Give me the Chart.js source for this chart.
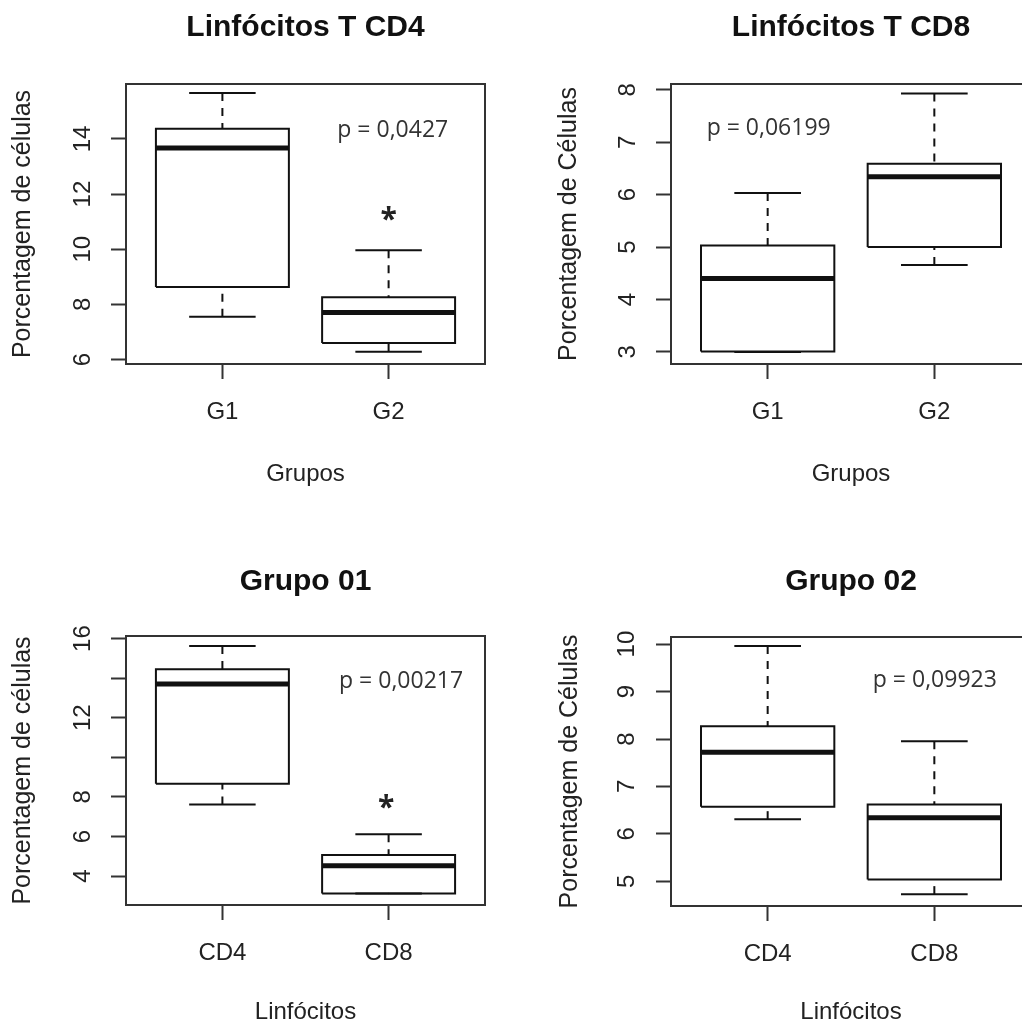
<!DOCTYPE html>
<html><head><meta charset="utf-8">
<script src="https://cdn.jsdelivr.net/npm/chart.js@4.4.1/dist/chart.umd.min.js"></script>
<style>
html,body{margin:0;padding:0;background:#fff;overflow:hidden;width:1022px;height:1023px;}
canvas{position:absolute;}
</style></head><body>
<canvas id="c1" width="511" height="511" style="left:0px;top:0px;width:511px;height:511px"></canvas>
<canvas id="c2" width="540" height="511" style="left:511px;top:0px;width:540px;height:511px"></canvas>
<canvas id="c3" width="511" height="520" style="left:0px;top:511px;width:511px;height:520px"></canvas>
<canvas id="c4" width="540" height="520" style="left:511px;top:511px;width:540px;height:520px"></canvas>
<script>
// ---- data ----
const groupLabels = ['G1', 'G2'];
const lymphLabels = ['CD4', 'CD8'];

// Linfócitos T CD4 (G1, G2)
const cd4Min = [7.55, 6.28];
const cd4Q1  = [8.63, 6.60];
const cd4Med = [13.67, 7.71];
const cd4Q3  = [14.37, 8.26];
const cd4Max = [15.66, 9.96];

// Linfócitos T CD8 (G1, G2)
const cd8Min = [3.00, 4.66];
const cd8Q1  = [3.01, 5.00];
const cd8Med = [4.40, 6.34];
const cd8Q3  = [5.03, 6.59];
const cd8Max = [6.03, 7.93];

// Grupo 01 (CD4, CD8)
const g1Min = [7.62, 3.12];
const g1Q1  = [8.67, 3.12];
const g1Med = [13.70, 4.52];
const g1Q3  = [14.45, 5.06];
const g1Max = [15.62, 6.12];

// Grupo 02 (CD4, CD8)
const g2Min = [6.31, 4.73];
const g2Q1  = [6.57, 5.04];
const g2Med = [7.72, 6.34];
const g2Q3  = [8.27, 6.62];
const g2Max = [9.96, 7.95];

// tick values / labels
const yTicksP1 = [6, 8, 10, 12, 14];
const yTickLabelsP1 = ['6', '8', '10', '12', '14'];
const yTicksP2 = [3, 4, 5, 6, 7, 8];
const yTickLabelsP2 = ['3', '4', '5', '6', '7', '8'];
const yTicksP3 = [4, 6, 8, 10, 12, 14, 16];
const yTickLabelsP3 = ['4', '6', '8', '', '12', '', '16'];
const yTicksP4 = [5, 6, 7, 8, 9, 10];
const yTickLabelsP4 = ['5', '6', '7', '8', '9', '10'];
const xTickValues = [1, 2];

// ---- drawing ----
Chart.defaults.font.family = '"Liberation Sans", Arial, sans-serif';
const INK = '#111';
const FRAME = '#333';
const HALF_BOX = 0.4, HALF_CAP = 0.2;

function seg(points, width, dash) {
  return {
    data: points, showLine: true, borderColor: INK, borderWidth: width,
    borderDash: dash || [], pointRadius: 0, pointHoverRadius: 0, fill: false,
    tension: 0, borderJoinStyle: 'miter', borderCapStyle: 'butt'
  };
}

function boxDatasets(mn, q1, md, q3, mx) {
  const ds = [];
  md.forEach((_, i) => {
    const x = xTickValues[i];
    ds.push(seg([{x: x, y: mx[i]}, {x: x, y: q3[i]}], 2, [8, 7]));
    ds.push(seg([{x: x, y: mn[i]}, {x: x, y: q1[i]}], 2, [8, 7]));
    ds.push(seg([{x: x - HALF_CAP, y: mx[i]}, {x: x + HALF_CAP, y: mx[i]}], 2));
    ds.push(seg([{x: x - HALF_CAP, y: mn[i]}, {x: x + HALF_CAP, y: mn[i]}], 2));
    ds.push(seg([{x: x - HALF_BOX, y: q1[i]}, {x: x + HALF_BOX, y: q1[i]}, {x: x + HALF_BOX, y: q3[i]},
                 {x: x - HALF_BOX, y: q3[i]}, {x: x - HALF_BOX, y: q1[i]}], 2));
    ds.push(seg([{x: x - HALF_BOX, y: md[i]}, {x: x + HALF_BOX, y: md[i]}], 5));
  });
  return ds;
}

const framePlugin = {
  id: 'frame',
  afterDatasetsDraw(chart) {
    const a = chart.chartArea, ctx = chart.ctx;
    ctx.save();
    ctx.strokeStyle = FRAME; ctx.lineWidth = 2;
    ctx.strokeRect(a.left, a.top, a.right - a.left, a.bottom - a.top);
    ctx.restore();
  }
};

const notesPlugin = {
  id: 'notes',
  afterDraw(chart, args, opts) {
    const ctx = chart.ctx, xs = chart.scales.x, ys = chart.scales.y;
    (opts.items || []).forEach(n => {
      ctx.save();
      ctx.font = n.font;
      ctx.fillStyle = n.color;
      ctx.textAlign = 'center';
      ctx.textBaseline = 'alphabetic';
      const px = xs.getPixelForValue(n.x), py = ys.getPixelForValue(n.y);
      const m = ctx.measureText(n.ref || n.text);
      const off = (m.actualBoundingBoxAscent - m.actualBoundingBoxDescent) / 2;
      ctx.fillText(n.text, px, py + off);
      ctx.restore();
    });
  }
};

function makePanel(p) {
  const titleSize = 30, titleLH = titleSize * 1.2;
  const tp = p.titleCY - titleLH / 2;
  new Chart(document.getElementById(p.id), {
    type: 'scatter',
    data: { datasets: boxDatasets(p.mn, p.q1, p.md, p.q3, p.mx) },
    options: {
      responsive: false, animation: false, events: [],
      layout: { padding: { left: 0, top: 0, bottom: 0, right: p.W - p.R } },
      plugins: {
        legend: { display: false }, tooltip: { enabled: false },
        title: {
          display: true, text: p.title, fullSize: false, color: INK,
          font: { size: titleSize, weight: 'bold' },
          padding: { top: tp, bottom: p.T - tp - titleLH }
        },
        notes: { items: p.notes }
      },
      scales: {
        x: {
          type: 'linear', min: 0.42, max: 2.58, bounds: 'data',
          afterBuildTicks: s => { s.ticks = xTickValues.map(v => ({value: v})); },
          afterFit: s => { s.height = p.H - p.B; },
          ticks: { callback: (v, i) => p.cats[i], color: '#222', font: { size: 24 },
                   padding: p.xTickPad, maxRotation: 0, minRotation: 0, autoSkip: false },
          grid: { display: true, drawOnChartArea: false, drawTicks: true, tickLength: 15,
                  tickWidth: 2, tickColor: FRAME },
          border: { display: false },
          title: { display: true, text: p.xTitle, color: '#222', font: { size: 24 },
                   padding: { top: 0, bottom: p.xTitlePad } }
        },
        y: {
          type: 'linear', min: p.yMin, max: p.yMax, bounds: 'data',
          afterBuildTicks: s => { s.ticks = p.yTicks.map(v => ({value: v})); },
          afterFit: s => { s.width = p.L; },
          ticks: { callback: (v, i) => p.yLabels[i], color: '#222', font: { size: 24 },
                   padding: p.yTickPad, minRotation: 90, maxRotation: 90, autoSkip: false,
                   crossAlign: 'center' },
          grid: { display: true, drawOnChartArea: false, drawTicks: true, tickLength: 15,
                  tickWidth: 2, tickColor: FRAME },
          border: { display: false },
          title: { display: true, text: p.yTitle, color: '#222', font: { size: 25 },
                   padding: { top: p.yTitlePad, bottom: 0 } }
        }
      }
    },
    plugins: [framePlugin, notesPlugin]
  });
}

const pFont = '23px "Open Sans"';
const starFont = 'bold 30px "Open Sans"';

makePanel({
  id: 'c1', title: 'Linfócitos T CD4', cats: groupLabels,
  mn: cd4Min, q1: cd4Q1, md: cd4Med, q3: cd4Q3, mx: cd4Max,
  yMin: 5.84, yMax: 15.99, yTicks: yTicksP1, yLabels: yTickLabelsP1,
  yTitle: 'Porcentagem de células', xTitle: 'Grupos',
  W: 511, H: 511, L: 126, R: 485, T: 84, B: 364, titleCY: 28,
  yTickPad: 14.6, yTitlePad: 8.3, xTickPad: 19, xTitlePad: 22.3,
  notes: [
    { text: 'p = 0,0427', ref: '0', x: 2.025, y: 14.39, font: pFont, color: '#333' },
    { text: '*', x: 2.0, y: 11.31, font: starFont, color: '#222' }
  ]
});
makePanel({
  id: 'c2', title: 'Linfócitos T CD8', cats: groupLabels,
  mn: cd8Min, q1: cd8Q1, md: cd8Med, q3: cd8Q3, mx: cd8Max,
  yMin: 2.77, yMax: 8.11, yTicks: yTicksP2, yLabels: yTickLabelsP2,
  yTitle: 'Porcentagem de Células', xTitle: 'Grupos',
  W: 540, H: 511, L: 160, R: 520, T: 84, B: 364, titleCY: 28,
  yTickPad: 21, yTitlePad: 42.9, xTickPad: 19, xTitlePad: 22.3,
  notes: [
    { text: 'p = 0,06199', ref: '0', x: 1.006, y: 7.30, font: pFont, color: '#333' }
  ]
});
makePanel({
  id: 'c3', title: 'Grupo 01', cats: lymphLabels,
  mn: g1Min, q1: g1Q1, md: g1Med, q3: g1Q3, mx: g1Max,
  yMin: 2.54, yMax: 16.13, yTicks: yTicksP3, yLabels: yTickLabelsP3,
  yTitle: 'Porcentagem de células', xTitle: 'Linfócitos',
  W: 511, H: 520, L: 126, R: 485, T: 125, B: 394, titleCY: 70.8,
  yTickPad: 14.6, yTitlePad: 8.3, xTickPad: 19.3, xTitlePad: 4.6,
  notes: [
    { text: 'p = 0,00217', ref: '0', x: 2.075, y: 13.93, font: pFont, color: '#333' },
    { text: '*', x: 1.985, y: 7.75, font: starFont, color: '#222' }
  ]
});
makePanel({
  id: 'c4', title: 'Grupo 02', cats: lymphLabels,
  mn: g2Min, q1: g2Q1, md: g2Med, q3: g2Q3, mx: g2Max,
  yMin: 4.48, yMax: 10.15, yTicks: yTicksP4, yLabels: yTickLabelsP4,
  yTitle: 'Porcentagem de Células', xTitle: 'Linfócitos',
  W: 540, H: 520, L: 160, R: 520, T: 126, B: 395, titleCY: 70.8,
  yTickPad: 15, yTitlePad: 43.9, xTickPad: 19.3, xTitlePad: 4.6,
  notes: [
    { text: 'p = 0,09923', ref: '0', x: 2.003, y: 9.28, font: pFont, color: '#333' }
  ]
});
</script>
</body></html>
